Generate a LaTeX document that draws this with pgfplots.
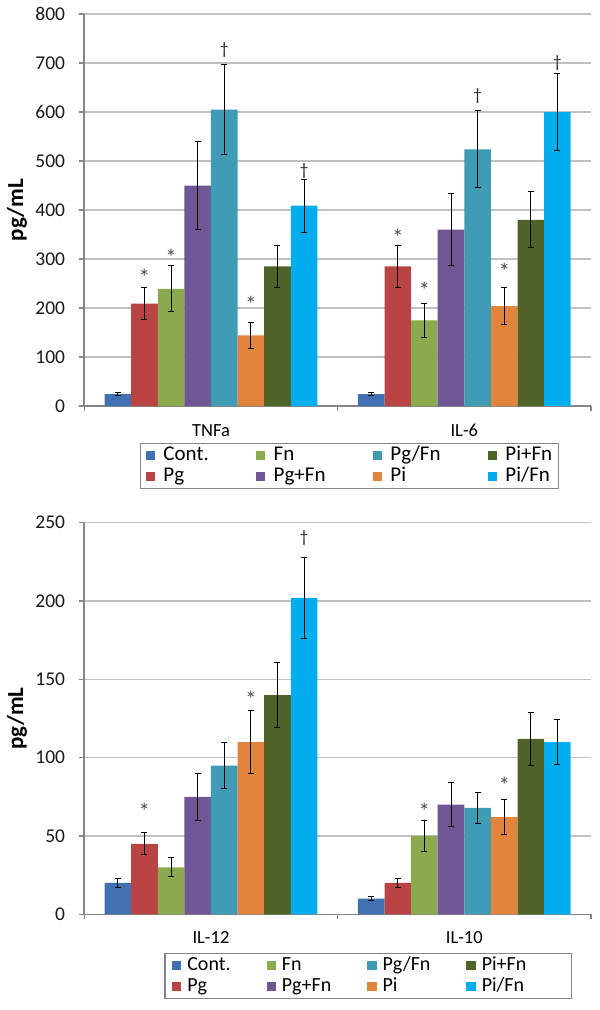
\documentclass[border=0pt]{standalone}
\usepackage{pgfplots}
\pgfplotsset{compat=1.18}
\usepackage{pgfplotstable}
\usepackage{fontspec}
\setmainfont{Carlito}

\definecolor{cCont}{RGB}{65,113,178}
\definecolor{cPg}{RGB}{184,69,67}
\definecolor{cFn}{RGB}{139,169,77}
\definecolor{cPgFn}{RGB}{113,86,150}
\definecolor{cPgsFn}{RGB}{64,155,180}
\definecolor{cPi}{RGB}{225,133,61}
\definecolor{cPiFn}{RGB}{79,98,40}
\definecolor{cPisFn}{RGB}{0,174,239}
\definecolor{axgray}{RGB}{134,134,134}
\definecolor{gridgray}{RGB}{192,192,192}

% TNFa (g=0) and IL-6 (g=1): mean and error for each group
\pgfplotstableread{
g cont contE pg pgE fn fnE pgfn pgfnE pgsfn pgsfnE pi piE pifn pifnE pisfn pisfnE
0 24 3 209 32 239 47 450 90 605 92 144 27 285 43 409 54
1 24 3 285 43 175 35 360 73 524 79 204 37 380 57 600 78
}\topdata

% IL-12 (g=0) and IL-10 (g=1)
\pgfplotstableread{
g cont contE pg pgE fn fnE pgfn pgfnE pgsfn pgsfnE pi piE pifn pifnE pisfn pisfnE
0 20 3 45 7 30 6 75 15 95 14.5 110 20 140 21 202 26
1 10 1.5 20 3 50 10 70 14 68 10 62 11 112 17 110 14.5
}\botdata

% significance marks (* and dagger)
\pgfplotstableread{
x y
-0.2625 262
-0.1575 303
0.1575 208
0.7375 344
0.8425 236
1.1575 274
}\topstars
\pgfplotstableread{
x y
0.0525 727
0.3675 479
1.0525 632
1.3675 700
}\topdags

\pgfplotstableread{
x y
-0.2625 65.5
0.1575 137.5
0.8425 65.5
1.1575 82.5
}\botstars
\pgfplotstableread{
x y
0.3675 240
}\botdags

\pgfplotsset{
  panel/.style={
    scale only axis, width=506.7pt,
    xmin=-0.5, xmax=1.5,
    axis x line*=bottom, axis y line*=left,
    axis line style={axgray, line width=1.6pt},
    xtick={-0.5,0.5,1.5}, xticklabels={,,},
    tick align=outside, major tick length=5pt,
    tick style={axgray, line width=1.4pt},
    ymajorgrids, grid style={gridgray, line width=1.3pt},
    ymin=0,
    /pgf/number format/assume math mode=true,
    yticklabel style={font=\fontsize{19.5}{19.5}\selectfont, inner sep=0pt, xshift=-14pt, text=black!90},
    extra x ticks={0,1},
    extra x tick style={major tick length=0pt, xticklabel style={anchor=base, inner sep=0pt, font=\fontsize{18.5}{18.5}\selectfont, text=black}},
    ylabel={pg/mL},
    every axis y label/.style={at={(axis description cs:-0.1328,0.5)}, rotate=90, anchor=center, font=\fontsize{23}{23}\selectfont\bfseries},
    legend columns=4,
    legend cell align=left,
    legend style={anchor=north west, draw=axgray, line width=1.3pt, inner xsep=4pt, inner ysep=2pt, row sep=1pt,
      nodes={inner sep=1pt, text height=14pt, text depth=4pt}},
  },
  bars/.style={ybar, bar width=0.105, bar shift=0pt, draw=none, fill=#1, forget plot,
    error bars/.cd, y dir=both, y explicit,
    error bar style={black, line width=1pt},
    error mark options={rotate=90, mark size=3pt, black, line width=1pt}},
  sqleg/.style={legend image code/.code={\fill[#1] (0pt,-4pt) rectangle (8pt,4pt);}},
  sigstar/.style={only marks, mark=none, forget plot, nodes near coords={*},
    every node near coord/.append style={anchor=center, inner sep=0pt, font=\fontsize{23}{23}\selectfont, text=black!70}},
  sigdag/.style={only marks, mark=none, forget plot, nodes near coords={\symbol{"2020}},
    every node near coord/.append style={anchor=center, inner sep=0pt, font=\fontsize{17}{17}\selectfont, text=black!85}},
}

\begin{document}
\begin{tikzpicture}
\path[use as bounding box] (0pt,0pt) rectangle (600pt,-1010pt);

% ---------- top panel ----------
\begin{axis}[panel,
  at={(84.3pt,-406pt)}, anchor=south west, height=392pt,
  ymax=800, ytick={0,100,...,800},
  extra x tick labels={TNFa,IL-6},
  extra x tick style={xticklabel style={yshift=-30pt}},
  legend style={at={(0.11,-0.0944)}, font=\fontsize{21}{21}\selectfont, inner xsep=5pt,
    /tikz/every odd column/.append style={column sep=7.5pt},
    /tikz/every even column/.append style={column sep=46pt}},
]
\addplot[bars=cCont]  table[x expr=\thisrow{g}-0.3675, y=cont,  y error=contE]  {\topdata};
\addplot[bars=cPg]    table[x expr=\thisrow{g}-0.2625, y=pg,    y error=pgE]    {\topdata};
\addplot[bars=cFn]    table[x expr=\thisrow{g}-0.1575, y=fn,    y error=fnE]    {\topdata};
\addplot[bars=cPgFn]  table[x expr=\thisrow{g}-0.0525, y=pgfn,  y error=pgfnE]  {\topdata};
\addplot[bars=cPgsFn] table[x expr=\thisrow{g}+0.0525, y=pgsfn, y error=pgsfnE] {\topdata};
\addplot[bars=cPi]    table[x expr=\thisrow{g}+0.1575, y=pi,    y error=piE]    {\topdata};
\addplot[bars=cPiFn]  table[x expr=\thisrow{g}+0.2625, y=pifn,  y error=pifnE]  {\topdata};
\addplot[bars=cPisFn] table[x expr=\thisrow{g}+0.3675, y=pisfn, y error=pisfnE] {\topdata};
\addplot[sigstar] table[x=x, y=y] {\topstars};
\addplot[sigdag] table[x=x, y=y] {\topdags};
\addlegendimage{sqleg=cCont}\addlegendentry{Cont.}
\addlegendimage{sqleg=cFn}\addlegendentry{Fn}
\addlegendimage{sqleg=cPgsFn}\addlegendentry{Pg/Fn}
\addlegendimage{sqleg=cPiFn}\addlegendentry{Pi+Fn}
\addlegendimage{sqleg=cPg}\addlegendentry{Pg}
\addlegendimage{sqleg=cPgFn}\addlegendentry{Pg+Fn}
\addlegendimage{sqleg=cPi}\addlegendentry{Pi}
\addlegendimage{sqleg=cPisFn}\addlegendentry{Pi/Fn}
\end{axis}

% ---------- bottom panel ----------
\begin{axis}[panel,
  at={(84.3pt,-914.3pt)}, anchor=south west, height=391.6pt,
  ymax=250, ytick={0,50,...,250},
  extra x tick labels={IL-12,IL-10},
  extra x tick style={xticklabel style={yshift=-29pt}},
  legend style={at={(0.158,-0.0988)}, font=\fontsize{20}{20}\selectfont, inner xsep=7pt,
    /tikz/every odd column/.append style={column sep=5pt},
    /tikz/every even column/.append style={column sep=35pt},
    /tikz/column 8/.style={/tikz/every node/.append style={text width=82pt}}},
]
\addplot[bars=cCont]  table[x expr=\thisrow{g}-0.3675, y=cont,  y error=contE]  {\botdata};
\addplot[bars=cPg]    table[x expr=\thisrow{g}-0.2625, y=pg,    y error=pgE]    {\botdata};
\addplot[bars=cFn]    table[x expr=\thisrow{g}-0.1575, y=fn,    y error=fnE]    {\botdata};
\addplot[bars=cPgFn]  table[x expr=\thisrow{g}-0.0525, y=pgfn,  y error=pgfnE]  {\botdata};
\addplot[bars=cPgsFn] table[x expr=\thisrow{g}+0.0525, y=pgsfn, y error=pgsfnE] {\botdata};
\addplot[bars=cPi]    table[x expr=\thisrow{g}+0.1575, y=pi,    y error=piE]    {\botdata};
\addplot[bars=cPiFn]  table[x expr=\thisrow{g}+0.2625, y=pifn,  y error=pifnE]  {\botdata};
\addplot[bars=cPisFn] table[x expr=\thisrow{g}+0.3675, y=pisfn, y error=pisfnE] {\botdata};
\addplot[sigstar] table[x=x, y=y] {\botstars};
\addplot[sigdag] table[x=x, y=y] {\botdags};
\addlegendimage{sqleg=cCont}\addlegendentry{Cont.}
\addlegendimage{sqleg=cFn}\addlegendentry{Fn}
\addlegendimage{sqleg=cPgsFn}\addlegendentry{Pg/Fn}
\addlegendimage{sqleg=cPiFn}\addlegendentry{Pi+Fn}
\addlegendimage{sqleg=cPg}\addlegendentry{Pg}
\addlegendimage{sqleg=cPgFn}\addlegendentry{Pg+Fn}
\addlegendimage{sqleg=cPi}\addlegendentry{Pi}
\addlegendimage{sqleg=cPisFn}\addlegendentry{Pi/Fn}
\end{axis}
\end{tikzpicture}
\end{document}
